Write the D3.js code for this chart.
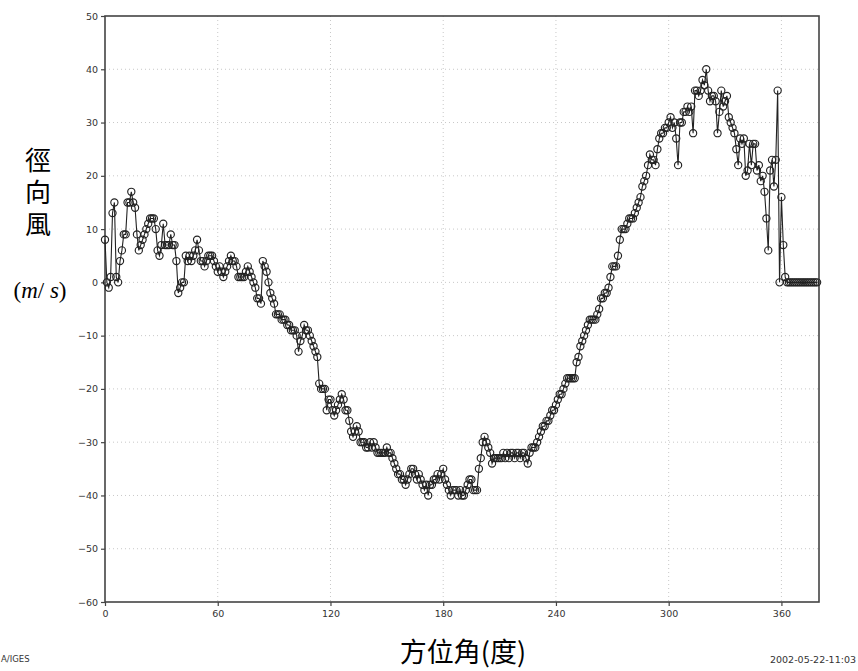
<!DOCTYPE html>
<html>
<head>
<meta charset="utf-8">
<script src="https://cdn.jsdelivr.net/npm/d3@7"></script>
<style>
  html, body { margin: 0; padding: 0; background: #fff; }
  svg { display: block; }
</style>
</head>
<body>
<svg id="chart" width="858" height="671"></svg>
<script>
// ---- data (radial wind vs azimuth, 1-degree steps starting at 0) ----
const azimuthStart = 0;
const azimuthStep = 1;
const radialWind = [
  8,0,-1,1,13,15,1,0,4,6,
  9,9,15,15,17,15,14,9,6,7,
  8,9,10,11,12,12,12,10,6,5,
  7,11,7,7,7,9,7,7,4,-2,
  -1,0,0,5,4,5,4,5,6,8,
  6,4,4,3,4,5,5,5,4,3,
  2,3,2,1,2,3,4,5,4,4,
  3,1,1,1,1,2,3,2,1,0,
  -1,-3,-3,-4,4,3,2,0,-2,-3,
  -4,-6,-6,-6,-7,-7,-7,-8,-8,-9,
  -9,-9,-10,-13,-11,-10,-8,-9,-9,-10,
  -11,-12,-13,-14,-19,-20,-20,-20,-24,-22,
  -22,-24,-25,-24,-23,-22,-21,-22,-24,-24,
  -26,-28,-29,-28,-27,-28,-30,-30,-30,-31,
  -31,-30,-31,-30,-31,-32,-32,-32,-32,-32,
  -31,-32,-32,-33,-34,-35,-36,-36,-37,-37,
  -38,-37,-36,-35,-35,-36,-37,-36,-37,-38,
  -39,-38,-40,-38,-38,-37,-37,-36,-37,-36,
  -35,-37,-38,-39,-40,-39,-39,-39,-40,-39,
  -40,-40,-39,-38,-37,-37,-39,-39,-39,-35,
  -33,-30,-29,-30,-31,-32,-34,-33,-33,-33,
  -33,-33,-32,-33,-32,-33,-32,-32,-33,-32,
  -32,-33,-32,-32,-33,-34,-32,-31,-31,-31,
  -30,-29,-28,-27,-27,-26,-26,-25,-24,-24,
  -23,-22,-21,-21,-20,-19,-18,-18,-18,-18,
  -18,-15,-14,-12,-11,-10,-9,-8,-7,-7,
  -7,-7,-6,-5,-3,-3,-2,-2,-1,1,
  3,3,3,5,8,10,10,10,11,12,
  12,12,13,14,15,16,18,19,20,22,
  24,23,23,22,25,27,28,28,29,29,
  30,31,29,30,27,22,30,30,32,32,
  33,32,33,28,36,36,35,36,38,37,
  40,36,34,35,35,34,28,32,36,33,
  34,35,31,30,29,28,25,22,27,26,
  27,20,21,26,22,26,26,21,22,19,
  20,17,12,6,21,23,18,23,36,0,
  16,7,1,0,0,0,0,0,0,0,
  0,0,0,0,0,0,0,0,0,0
];
const xTicks = [0, 60, 120, 180, 240, 300, 360];
const yTicks = [-60, -50, -40, -30, -20, -10, 0, 10, 20, 30, 40, 50];
const xDomain = [0, 380];
const yDomain = [-60, 50];
const yTitleText = "徑向風";
const xTitle = "方位角(度)";
const leftNote = "A/IGES";
const rightNote = "2002-05-22-11:03";

const points = radialWind.map((v, i) => ({ az: azimuthStart + i * azimuthStep, v }));

// ---- layout ----
const plot = { left: 105, right: 819, top: 16, bottom: 602 };
const svg = d3.select("#chart");

const x = d3.scaleLinear().domain(xDomain).range([plot.left, plot.right]);
const y = d3.scaleLinear().domain(yDomain).range([plot.bottom, plot.top]);

// grid
const grid = svg.append("g");
grid.selectAll("line.vg").data(xTicks.filter(t => t > xDomain[0]))
  .join("line")
  .attr("x1", d => x(d)).attr("x2", d => x(d))
  .attr("y1", plot.top).attr("y2", plot.bottom)
  .attr("stroke", "#c8c8c8").attr("stroke-width", 1)
  .attr("stroke-dasharray", "1,3");
grid.selectAll("line.hg").data(yTicks.filter(t => t > yDomain[0] && t < yDomain[1]))
  .join("line")
  .attr("x1", plot.left).attr("x2", plot.right)
  .attr("y1", d => y(d)).attr("y2", d => y(d))
  .attr("stroke", "#c8c8c8").attr("stroke-width", 1)
  .attr("stroke-dasharray", "1,3");

// axes
const fontTick = "'DejaVu Sans', sans-serif";
const yAxis = svg.append("g")
  .attr("transform", `translate(${plot.left},0)`)
  .call(d3.axisLeft(y).tickValues(yTicks).tickSize(4).tickPadding(3).tickFormat(d => d < 0 ? "\u2212" + Math.abs(d) : d));
const xAxis = svg.append("g")
  .attr("transform", `translate(0,${plot.bottom})`)
  .call(d3.axisBottom(x).tickValues(xTicks).tickSize(4).tickPadding(4));
[xAxis, yAxis].forEach(a => {
  a.select(".domain").remove();
  a.selectAll(".tick line").attr("stroke", "#444").attr("stroke-width", 1.2);
  a.selectAll(".tick text").attr("fill", "#333")
    .style("font-family", fontTick).style("font-size", "9.5px");
});

// frame
svg.append("rect")
  .attr("x", plot.left).attr("y", plot.top)
  .attr("width", plot.right - plot.left).attr("height", plot.bottom - plot.top)
  .attr("fill", "none").attr("stroke", "#444").attr("stroke-width", 1.6);

// line + markers
const line = d3.line().x(d => x(d.az)).y(d => y(d.v));
svg.append("path").datum(points)
  .attr("d", line)
  .attr("fill", "none").attr("stroke", "#222").attr("stroke-width", 1.1);
svg.append("g").selectAll("circle").data(points)
  .join("circle")
  .attr("cx", d => x(d.az)).attr("cy", d => y(d.v))
  .attr("r", 3.6)
  .attr("fill", "none").attr("stroke", "#222").attr("stroke-width", 1.15);

// titles
const cjk = "'Noto Sans CJK TC', 'Noto Sans CJK SC', sans-serif";
svg.append("text")
  .attr("x", 38).attr("y", 147)
  .style("writing-mode", "vertical-rl")
  .style("text-orientation", "upright")
  .style("letter-spacing", "6px")
  .style("font-family", cjk).style("font-size", "26px").attr("fill", "#000")
  .text(yTitleText);

const unit = svg.append("text")
  .attr("x", 40).attr("y", 298).attr("text-anchor", "middle")
  .style("font-family", "'Liberation Serif', 'DejaVu Serif', serif")
  .style("font-size", "23px").attr("fill", "#000");
unit.append("tspan").text("(");
unit.append("tspan").style("font-style", "italic").text("m");
unit.append("tspan").text("/");
unit.append("tspan").style("font-style", "italic").text(" s");
unit.append("tspan").text(")");

svg.append("text")
  .attr("x", 463).attr("y", 662).attr("text-anchor", "middle")
  .style("font-family", cjk).style("font-size", "27px").attr("fill", "#000")
  .text(xTitle);

svg.append("text")
  .attr("x", 1).attr("y", 662).attr("text-anchor", "start")
  .style("font-family", fontTick).style("font-size", "8.5px").attr("fill", "#333")
  .text(leftNote);
svg.append("text")
  .attr("x", 856).attr("y", 663).attr("text-anchor", "end")
  .style("font-family", fontTick).style("font-size", "9.5px").attr("fill", "#333")
  .text(rightNote);
</script>
</body>
</html>
